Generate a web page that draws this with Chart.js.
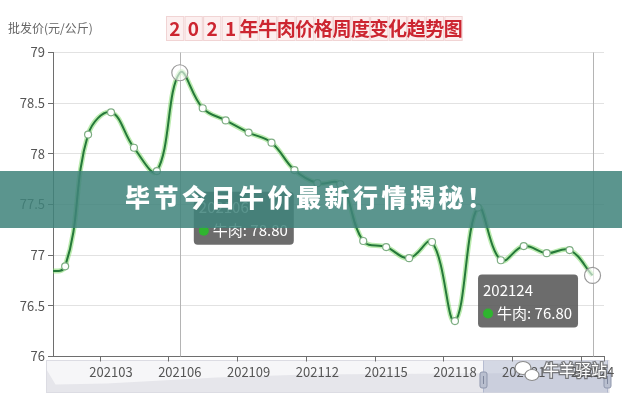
<!DOCTYPE html>
<html><head><meta charset="utf-8">
<script src="https://cdn.jsdelivr.net/npm/chart.js@4.4.0/dist/chart.umd.min.js"></script>
<style>html,body{margin:0;padding:0;background:#fff;}#wrap{position:relative;width:622px;height:400px;}canvas{display:block;}</style>
</head><body><div id="wrap"><canvas id="c" width="622" height="400"></canvas></div>
<script>
// ---- data ----
const weekLabels = ["202053","202101","202102","202103","202104","202105","202106","202107","202108","202109","202110","202111","202112","202113","202114","202115","202116","202117","202118","202119","202120","202121","202122","202123","202124"];
const beefPrices = [76.84,76.89,78.19,78.41,78.06,77.83,78.80,78.45,78.33,78.21,78.11,77.84,77.71,77.70,77.14,77.08,76.97,77.13,76.35,77.47,76.95,77.09,77.02,77.05,76.80];
const xTickIndexes = [3,6,9,12,15,18,21,24];
const yTickValues = [76,76.5,77,77.5,78,78.5,79];
const tooltipIndexes = [6,24];
const seriesName = "牛肉";
const chartTitle = "2021年牛肉价格周度变化趋势图";
const yAxisTitle = "批发价(元/公斤)";
const bannerText = "毕节今日牛价最新行情揭秘！";
const watermarkText = "牛羊驿站";

const FONT = "'Noto Sans CJK SC','Noto Sans',sans-serif";
Chart.defaults.font.family = FONT;

const points = beefPrices.map((v,i)=>({x:i,y:v}));

function roundRect(ctx,x,y,w,h,r){ctx.beginPath();ctx.moveTo(x+r,y);ctx.lineTo(x+w-r,y);ctx.quadraticCurveTo(x+w,y,x+w,y+r);ctx.lineTo(x+w,y+h-r);ctx.quadraticCurveTo(x+w,y+h,x+w-r,y+h);ctx.lineTo(x+r,y+h);ctx.quadraticCurveTo(x,y+h,x,y+h-r);ctx.lineTo(x,y+r);ctx.quadraticCurveTo(x,y,x+r,y);ctx.closePath();}

const deco = {
  id:'deco',
  beforeDraw(chart){
    const {ctx} = chart;
    ctx.save();
    // data zoom slider (drawn under the axis labels)
    const sl=46.5, sr=609, st=360.5, sb=392.5;
    ctx.fillStyle='#f6f6f8';ctx.fillRect(sl,st,sr-sl,sb-st);
    ctx.fillStyle='#e6e6eb';
    ctx.beginPath();ctx.moveTo(sl,sb);ctx.lineTo(sl,st+9);ctx.lineTo(sl+9,sb-8);ctx.lineTo(sl+60,sb-9);ctx.lineTo(sl+170,sb-15);ctx.lineTo(sl+260,sb-18);ctx.lineTo(sr,sb-20);ctx.lineTo(sr,sb);ctx.closePath();ctx.fill();
    ctx.strokeStyle='#dcdce3';ctx.lineWidth=1;ctx.strokeRect(sl,st,sr-sl,sb-st);
    const ssl=483.5, ssr=607.5;
    ctx.fillStyle='rgba(170,180,205,0.45)';ctx.fillRect(ssl,st,ssr-ssl,sb-st);
    ctx.strokeStyle='rgba(150,160,190,0.6)';ctx.beginPath();ctx.moveTo(ssl,st);ctx.lineTo(ssl,sb);ctx.moveTo(ssr,st);ctx.lineTo(ssr,sb);ctx.stroke();
    [ssl,ssr].forEach(hx=>{
      ctx.fillStyle='#b9bfcf';roundRect(ctx,hx-3.5,372,7,16,2);ctx.fill();
      ctx.strokeStyle='#8f97ad';ctx.stroke();
      ctx.strokeStyle='#7f879d';ctx.beginPath();ctx.moveTo(hx,376);ctx.lineTo(hx,384);ctx.stroke();
    });
    ctx.restore();
  },
  beforeDatasetsDraw(chart){
    const {ctx, chartArea:a, scales:{x}} = chart;
    ctx.save();
    ctx.strokeStyle='#b4b4b4';ctx.lineWidth=1;
    tooltipIndexes.forEach(i=>{
      const px=Math.round(x.getPixelForValue(i))+0.5;
      ctx.beginPath();ctx.moveTo(px,a.top);ctx.lineTo(px,a.bottom);ctx.stroke();
    });
    ctx.restore();
  },
  afterDraw(chart){
    const {ctx, chartArea:a, scales:{x,y}} = chart;
    ctx.save();
    // x tick marks at category boundaries
    ctx.strokeStyle='#6e6e6e';ctx.lineWidth=1;
    const marks = xTickIndexes.map(i=>x.getPixelForValue(i-0.5)).concat([a.right]);
    marks.forEach(px=>{px=Math.round(px)+0.5;ctx.beginPath();ctx.moveTo(px,a.bottom);ctx.lineTo(px,a.bottom+5);ctx.stroke();});

    // title with cells
    const chars=[...chartTitle];
    const tx0=166, pitch=18.56;
    chars.forEach((ch,k)=>{
      const cx=tx0+k*pitch;
      ctx.fillStyle='#fcefef';ctx.fillRect(cx,16.5,pitch-0.8,24);
      ctx.strokeStyle='#f1d4d4';ctx.lineWidth=1;ctx.strokeRect(cx+0.5,16.5,pitch-1.3,24);
      ctx.fillStyle='#cc2530';ctx.font='bold 19px '+FONT;ctx.textAlign='center';ctx.textBaseline='middle';
      ctx.fillText(ch,cx+pitch/2-0.4,29);
    });
    // y axis title
    ctx.fillStyle='#666';ctx.font='12px '+FONT;ctx.textAlign='left';ctx.textBaseline='middle';
    ctx.fillText(yAxisTitle,8,28);

    // tooltips
    const drawTip=(i,left,top)=>{
      ctx.font='15px '+FONT;
      const title=weekLabels[i], body=seriesName+': '+beefPrices[i].toFixed(2);
      const w=Math.max(ctx.measureText(title).width+12, ctx.measureText(body).width+25), h=53;
      ctx.fillStyle='rgba(88,88,88,0.88)';roundRect(ctx,left,top,w,h,4);ctx.fill();
      ctx.fillStyle='#fff';ctx.textAlign='left';ctx.textBaseline='middle';
      ctx.fillText(title,left+5,top+16);
      ctx.fillStyle='#2fb52f';ctx.beginPath();ctx.arc(left+10,top+39,5,0,Math.PI*2);ctx.fill();
      ctx.fillStyle='#fff';ctx.fillText(body,left+19,top+39);
    };
    const p1x=x.getPixelForValue(tooltipIndexes[0]), p1y=y.getPixelForValue(beefPrices[tooltipIndexes[0]]);
    drawTip(tooltipIndexes[0], p1x+14, p1y+119);
    const p2x=x.getPixelForValue(tooltipIndexes[1]), p2y=y.getPixelForValue(beefPrices[tooltipIndexes[1]]);
    drawTip(tooltipIndexes[1], p2x-114.5, p2y-1);

    // banner
    ctx.fillStyle='rgba(64,132,124,0.86)';ctx.fillRect(0,171,622,57);
    ctx.fillStyle='#fff';ctx.font='900 25px '+FONT;ctx.textAlign='left';ctx.textBaseline='middle';
    [...bannerText].forEach((ch,k)=>ctx.fillText(ch,125+k*28.5,197));

    // watermark
    ctx.lineWidth=1.2;ctx.strokeStyle='#8a8a8a';ctx.fillStyle='#fff';
    ctx.beginPath();ctx.ellipse(523,368,8,6.5,0,0,Math.PI*2);ctx.fill();ctx.stroke();
    ctx.beginPath();ctx.ellipse(532,375,7,5.5,0,0,Math.PI*2);ctx.fill();ctx.stroke();
    ctx.font='16px '+FONT;ctx.textBaseline='middle';ctx.textAlign='left';
    ctx.lineWidth=2.5;ctx.strokeStyle='rgba(90,90,90,0.75)';ctx.strokeText(watermarkText,543,370);
    ctx.fillStyle='#fff';ctx.fillText(watermarkText,543,370);
    ctx.restore();
  }
};

new Chart(document.getElementById('c'),{
  type:'line',
  data:{datasets:[
    {label:seriesName,data:points,borderColor:'#25793a',borderWidth:2,tension:0.4,clip:0,
     pointRadius:c=>tooltipIndexes.includes(c.dataIndex)?8:3.5,
     pointBackgroundColor:c=>tooltipIndexes.includes(c.dataIndex)?'rgba(255,255,255,0.6)':'#fff',
     pointBorderColor:c=>tooltipIndexes.includes(c.dataIndex)?'#9a9a9a':'#7fae84',
     pointBorderWidth:1.2},
    {label:'glow',data:points,borderColor:'rgba(120,215,95,0.5)',borderWidth:5,tension:0.4,clip:0,pointRadius:0}
  ]},
  options:{
    responsive:false,animation:false,events:[],
    layout:{padding:{top:52.5,right:18,left:0,bottom:0}},
    plugins:{legend:{display:false},tooltip:{enabled:false},title:{display:false}},
    scales:{
      x:{type:'linear',min:0.47,max:24.5,
         afterBuildTicks:s=>{s.ticks=xTickIndexes.map(v=>({value:v}));},
         afterFit:s=>{s.height=43.5;},
         grid:{display:false},
         border:{display:true,color:'#6e6e6e',width:1},
         ticks:{autoSkip:false,maxRotation:0,padding:0,color:'#555',font:{size:13},callback:v=>weekLabels[v]}},
      y:{min:76,max:79,
         afterBuildTicks:s=>{s.ticks=yTickValues.map(v=>({value:v}));},
         afterFit:s=>{s.width=53;},
         grid:{color:'#e2e2e2',tickLength:5,tickColor:'#6e6e6e'},
         border:{display:true,color:'#6e6e6e',width:1},
         ticks:{padding:3,color:'#555',font:{size:13},callback:v=>String(v)}}
    }
  },
  plugins:[deco]
});
</script></body></html>
